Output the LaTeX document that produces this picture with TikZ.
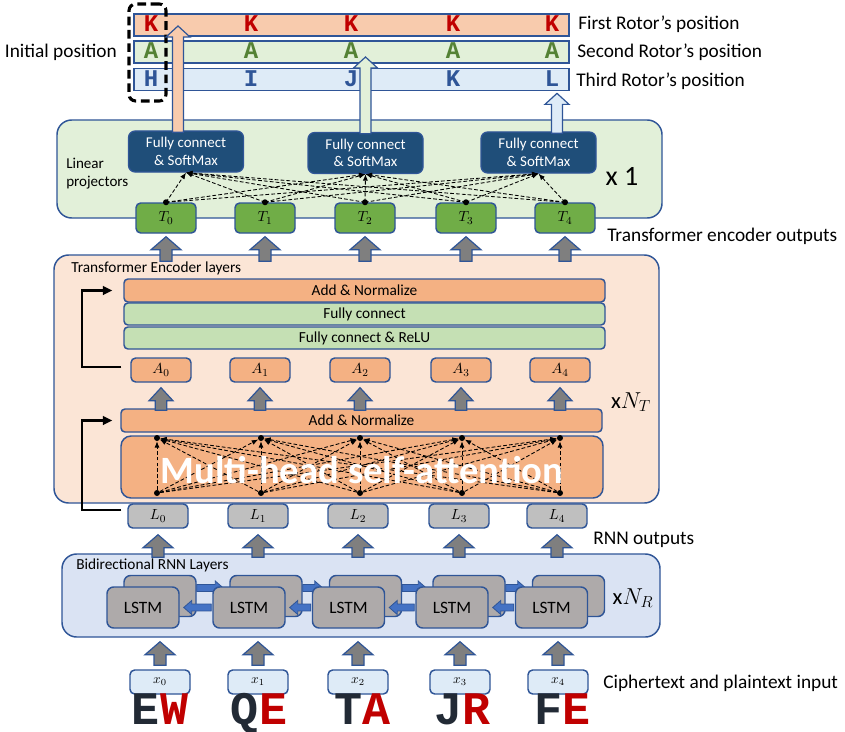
\documentclass[tikz,border=0pt]{standalone}
\usepackage{fontspec}
\setmainfont{Carlito}
\newfontfamily\cour{Liberation Mono}
\usetikzlibrary{arrows.meta,calc}
\definecolor{bd}{HTML}{2F5597}
\definecolor{bone}{HTML}{F8CBAD}
\definecolor{btwo}{HTML}{E2F0D9}
\definecolor{bthree}{HTML}{DEEBF7}
\definecolor{lpg}{HTML}{E2F0D9}
\definecolor{tpg}{HTML}{FBE5D6}
\definecolor{rng}{HTML}{DAE3F3}
\definecolor{orl}{HTML}{F4B183}
\definecolor{grl}{HTML}{C5E0B4}
\definecolor{fcc}{HTML}{1F4E79}
\definecolor{tgr}{HTML}{70AD47}
\definecolor{lgr}{HTML}{BFBFBF}
\definecolor{lst}{HTML}{AEAAAA}
\definecolor{garrow}{HTML}{7F7F7F}
\definecolor{bla}{HTML}{4472C4}
\definecolor{rred}{HTML}{C00000}
\definecolor{agr}{HTML}{548235}
\definecolor{hbl}{HTML}{2F5597}
\definecolor{dkl}{HTML}{222A35}
% vertical block arrow: #1 base point, #2 tip (y used), #3 shaft half width, #4 head half width, #5 head length (pt), #6 style
\newcommand{\uparr}[6]{%
  \draw[#6] let \p1=(#1), \p2=(#2) in
  (\x1-#3pt,\y1) -- (\x1-#3pt,\y2-#5pt) -- (\x1-#4pt,\y2-#5pt) -- (\x1,\y2)
  -- (\x1+#4pt,\y2-#5pt) -- (\x1+#3pt,\y2-#5pt) -- (\x1+#3pt,\y1) -- cycle;}
\newcommand{\rarr}[6]{%
  \draw[#6] let \p1=(#1), \p2=(#2) in
  (\x1,\y1+#3pt) -- (\x2-#5pt,\y1+#3pt) -- (\x2-#5pt,\y1+#4pt) -- (\x2,\y1)
  -- (\x2-#5pt,\y1-#4pt) -- (\x2-#5pt,\y1-#3pt) -- (\x1,\y1-#3pt) -- cycle;}
\newcommand{\larr}[6]{%
  \draw[#6] let \p1=(#1), \p2=(#2) in
  (\x1,\y1+#3pt) -- (\x2+#5pt,\y1+#3pt) -- (\x2+#5pt,\y1+#4pt) -- (\x2,\y1)
  -- (\x2+#5pt,\y1-#4pt) -- (\x2+#5pt,\y1-#3pt) -- (\x1,\y1-#3pt) -- cycle;}
\begin{document}
\begin{tikzpicture}[x=0.75pt,y=-0.75pt,
  grp/.style={draw=bd, line width=1.1pt, rounded corners=11pt, inner sep=0pt},
  bar/.style={draw=bd, line width=1.3pt, inner sep=0pt, minimum width=326.25pt, minimum height=16.5pt},
  rl/.style={font=\cour\bfseries\fontsize{18}{18}\selectfont, inner sep=0pt, anchor=base},
  initb/.style={draw=black, line width=2.3pt, dash pattern=on 6.5pt off 3.5pt, rounded corners=5pt, inner sep=0pt},
  lbl/.style={font=\fontsize{14.5}{16}\selectfont, inner sep=0pt},
  small/.style={font=\fontsize{11.5}{14}\selectfont, inner sep=0pt},
  fcb/.style={draw=bd, fill=fcc, text=white, line width=1pt, rounded corners=5pt, inner sep=0pt,
    minimum width=86.25pt, minimum height=30.75pt, align=center, font=\fontsize{11.2}{13}\selectfont},
  cbox/.style={draw=bd, line width=1.1pt, rounded corners=3.5pt, inner sep=0pt,
    minimum width=45pt, minimum height=18pt, font=\fontsize{11}{12}\selectfont},
  lay/.style={draw=bd, line width=1.1pt, rounded corners=3pt, inner sep=0pt,
    minimum width=360.75pt, minimum height=17.25pt, font=\fontsize{11.5}{12}\selectfont},
  lstm/.style={draw=bd, fill=lst, line width=1.1pt, rounded corners=5pt, inner sep=0pt,
    minimum width=54pt, minimum height=30.75pt, font=\fontsize{13}{14}\selectfont},
  gar/.style={draw=bd, fill=garrow, line width=0.9pt},
  bar1/.style={draw=bd, fill=bla, line width=0.6pt},
  dl/.style={black, dash pattern=on 2.8pt off 1.6pt, line width=0.65pt, -{Latex[length=4.8pt,width=3.8pt]}},
  dot/.style={circle, fill=black, inner sep=0pt, minimum size=4.5pt},
  res/.style={line width=1.6pt, -{Triangle[length=7pt,width=6.5pt]}},
  big/.style={font=\fontsize{21}{22}\selectfont, inner sep=0pt},
  bigm/.style={font=\fontsize{17}{20}\selectfont, inner sep=0pt},
  bl/.style={font=\cour\bfseries\fontsize{35}{35}\selectfont, inner sep=0pt, anchor=base}
]
\useasboundingbox (0,0) rectangle (845,731);
\fill[white] (0,0) rectangle (845,731);

% ---- rotor bars ----
\node[bar, fill=bone] (bar1) at (351.5,25) {};
\node[bar, fill=btwo] (bar2) at (351.5,52) {};
\node[bar, fill=bthree] (bar3) at (351.5,79.5) {};
\foreach \x/\a/\b/\c [count=\i from 0] in {151/K/A/H, 251/K/A/I, 351/K/A/J, 453/K/A/K, 552/K/A/L} {
  \node[rl, text=rred] (ra\i) at (\x,32) {\a};
  \node[rl, text=agr] (rb\i) at (\x,59) {\b};
  \node[rl, text=hbl] (rc\i) at (\x,86.5) {\c};
}
\node[initb, minimum width=27.75pt, minimum height=72.75pt] (init) at (147.5,52.5) {};
\node[lbl, anchor=east] (initlbl) at (117,52) {Initial position};
\node[lbl, anchor=west] (l1) at (578,24) {First Rotor’s position};
\node[lbl, anchor=west] (l2) at (577,52) {Second Rotor’s position};
\node[lbl, anchor=west] (l3) at (576,81) {Third Rotor’s position};

% ---- linear projectors ----
\node[grp, fill=lpg, minimum width=453.75pt, minimum height=73.5pt] (lp) at (359.5,169) {};
\node[small, anchor=west, align=left, font=\fontsize{11.3}{13.5}\selectfont] (lptxt) at (66,174) {Linear\\projectors};

\node[fcb] (fc1) at (186,151.5) {Fully connect\\\& SoftMax};
\node[fcb] (fc2) at (365.5,153) {Fully connect\\\& SoftMax};
\node[fcb] (fc3) at (538.5,152.5) {Fully connect\\\& SoftMax};

\uparr{$(fc1.north)+(-8,2)$}{$(bar1.center)+(0,1)$}{4.1}{9}{8.25}{draw=bd, fill=bone, line width=0.9pt}
\uparr{$(fc2.north)+(0,2)$}{$(bar2.center)+(0,5)$}{4.1}{9}{8.25}{draw=bd, fill=btwo, line width=0.9pt}
\uparr{$(fc3.north)+(18.5,2)$}{$(bar3.south)+(0,2)$}{4.1}{9}{8.25}{draw=bd, fill=bthree, line width=0.9pt}

\node[big] (xone) at (622,176) {x 1};

\foreach \x [count=\i from 0] in {166,265,365,466,565} {
  \node[cbox, fill=tgr, minimum height=22.5pt] (T\i) at (\x,218) {$T_{\i}$};
}
\foreach \i in {0,...,4} {
  \foreach \k in {1,2,3} {\draw[dl] (T\i.north) -- (fc\k.south);}
  \node[dot] (td\i) at (T\i.north) {};
}
\node[lbl, anchor=west] (teo) at (607,236) {Transformer encoder outputs};

% ---- transformer ----
\node[grp, fill=tpg, minimum width=453.75pt, minimum height=186pt] (tr) at (356.5,379) {};
\node[small, anchor=west] (trt) at (71,268) {Transformer Encoder layers};
\foreach \i in {0,...,4} {
  \uparr{$(T\i.south|-tr.north)+(0,7)$}{$(T\i.south)+(0,3)$}{4.5}{11.25}{9.75}{gar}
}

\node[lay, fill=orl] (an2) at (364.5,290.5) {Add \& Normalize};
\node[lay, fill=grl, minimum height=16.5pt] (fcl) at (364.5,314) {Fully connect};
\node[lay, fill=grl, minimum height=16.5pt] (relu) at (364.5,338) {Fully connect \& ReLU};

\foreach \x [count=\i from 0] in {161,260,360,461,560} {
  \node[cbox, fill=orl] (A\i) at (\x,370) {$A_{\i}$};
}

\node[lay, fill=orl, minimum width=360.75pt] (an1) at (361.5,420.5) {Add \& Normalize};
\foreach \i in {0,...,4} {
  \uparr{$(A\i.south|-an1.north)+(0,2)$}{$(A\i.south)+(0,5)$}{4.3}{9}{9.75}{gar}
}

\node[grp, fill=orl, rounded corners=7.5pt, minimum width=361.5pt, minimum height=46.5pt] (mh) at (362,467) {};
\foreach \x [count=\i from 0] in {157,261,360,462,560} {
  \node[dot] (ab\i) at (\x,493) {};
  \node[dot] (at\i) at (\x,438) {};
}
\foreach \i in {0,...,4} {\foreach \j in {0,...,4} {\draw[dl] (ab\i) -- (at\j);}}
\node[text=white, inner sep=0pt, font=\bfseries\fontsize{29}{30}\selectfont] (mhtxt) at (362,470) {Multi-head self-attention};

\node[bigm] (nt) at (631,402) {x$N_T$};

\draw[res] ($(A0.west)+(-9,-3)$) -- ++(-39,0) |- ($(an2.west)+(-11,0)$);

% ---- RNN outputs ----
\foreach \x [count=\i from 0] in {158,258,358,459,557} {
  \node[cbox, fill=lgr] (L\i) at (\x,516) {$L_{\i}$};
}
\draw[res] ($(L0.west)+(-6,-6)$) -- ++(-39,0) |- ($(an1.west)+(-8,0)$);
\node[lbl, anchor=west] (ro) at (593,540) {RNN outputs};

% ---- RNN ----
\node[grp, fill=rng, minimum width=448.5pt, minimum height=62.25pt] (rnn) at (361,595.5) {};
\node[small, anchor=west] (rnt) at (76,565) {Bidirectional RNN Layers};
\foreach \i in {0,...,4} {
  \uparr{$(L\i.south|-rnn.north)+(0,4)$}{$(L\i.south)+(0,6)$}{4.5}{11.25}{9.75}{gar}
}

\foreach \x [count=\i from 0] in {143,249,348.5,452,551.5} {
  \node[lstm] (B\i) at (\x+17,596) {};
}
\foreach \i/\j in {0/1,1/2,2/3,3/4} {
  \rarr{$(B\i.east)+(0,-8)$}{$(B\j.west)+(-6,0)$}{2.6}{5.25}{6}{bar1}
}
\foreach \x [count=\i from 0] in {143,249,348.5,452,551.5} {
  \node[lstm] (F\i) at (\x,607.5) {LSTM};
}
\foreach \i/\j in {0/1,1/2,2/3,3/4} {
  \larr{$(F\j.west)+(-1,0)$}{$(F\i.east)+(4,0)$}{2.6}{5.25}{6}{bar1}
}

\node[bigm] (nr) at (633,598) {x$N_R$};

% ---- inputs ----
\foreach \x [count=\i from 0] in {160,258,358,460,558} {
  \node[cbox, fill=bthree, font=\fontsize{10}{12}\selectfont] (x\i) at (\x,682) {$x_{\i}$};
}
\foreach \i in {0,...,4} {
  \uparr{$(x\i.north)+(0,-4)$}{$(x\i.north|-rnn.south)+(0,4)$}{4.5}{11.25}{9.75}{gar}
}
\node[lbl, anchor=west] (cpl) at (603,683) {Ciphertext and plaintext input};

\foreach \x/\a/\b [count=\i from 0] in {160/E/W, 259/Q/E, 362/T/A, 462/J/R, 562/F/E} {
  \node[bl] (w\i) at (\x,724) {\textcolor{dkl}{\a}\textcolor{rred}{\b}};
}
\end{tikzpicture}
\end{document}
